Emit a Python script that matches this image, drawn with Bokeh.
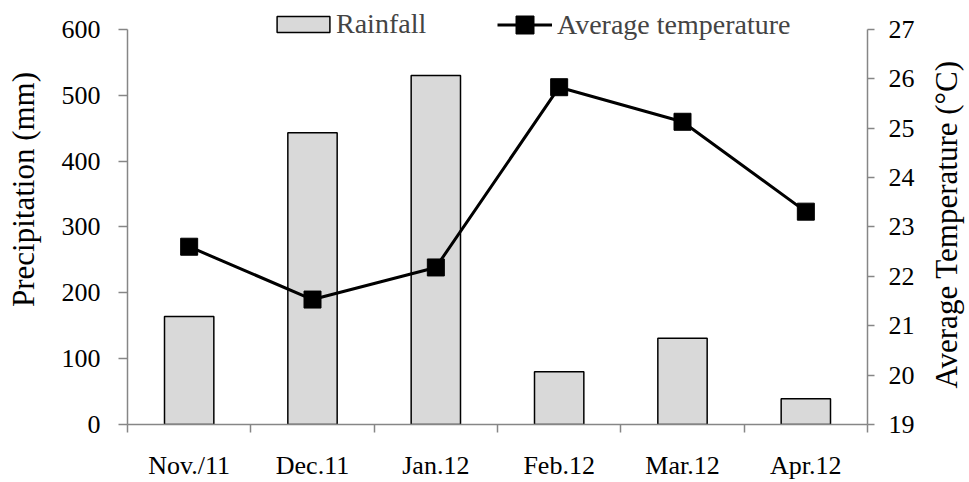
import math
from bokeh.plotting import figure
from bokeh.models import Range1d, LinearAxis, FixedTicker, Legend, LegendItem, Label
from bokeh.embed import file_html
from bokeh.resources import INLINE

months = ["Nov./11", "Dec.11", "Jan.12", "Feb.12", "Mar.12", "Apr.12"]
rainfall = [164, 443, 530, 80, 131, 39]
avg_temp = [22.6, 21.53, 22.18, 25.83, 25.13, 23.31]
precip_ticks = [0, 100, 200, 300, 400, 500, 600]
temp_ticks = [19, 20, 21, 22, 23, 24, 25, 26, 27]

FONT = "Liberation Serif"
AXIS_GRAY = "#868686"

# the frame reaches the top of the figure so the legend (drawn above the axes) is not clipped;
# the axes themselves are bounded to their data ranges
HEADROOM = 425 / 396
P_MIN, P_MAX = precip_ticks[0], precip_ticks[-1]
T_MIN, T_MAX = temp_ticks[0], temp_ticks[-1]

xs = [i + 0.5 for i in range(len(months))]
bounds = [float(i) for i in range(len(months) + 1)]

p = figure(width=969, height=482, output_backend="svg", toolbar_location=None,
           x_range=Range1d(0, len(months)),
           y_range=Range1d(P_MIN, P_MIN + (P_MAX - P_MIN) * HEADROOM),
           min_border_left=127, min_border_right=102, min_border_top=0,
           min_border_bottom=57, x_axis_location=None, y_axis_location=None)
p.outline_line_color = None
p.xgrid.visible = False
p.ygrid.visible = False
p.background_fill_color = "white"
p.border_fill_color = "white"

p.extra_y_ranges = {"temp": Range1d(T_MIN, T_MIN + (T_MAX - T_MIN) * HEADROOM)}

xaxis = LinearAxis(ticker=FixedTicker(ticks=xs, minor_ticks=bounds),
                   major_label_overrides={x: m for x, m in zip(xs, months)})
xaxis.major_tick_out = 0
xaxis.major_tick_in = 0
xaxis.minor_tick_out = 8
xaxis.minor_tick_in = 0
xaxis.major_label_standoff = 18
p.add_layout(xaxis, "below")

yaxis = LinearAxis(ticker=FixedTicker(ticks=precip_ticks), bounds=(P_MIN, P_MAX))
yaxis.major_tick_out = 9
yaxis.major_tick_in = 0
yaxis.minor_tick_out = 0
yaxis.minor_tick_in = 0
yaxis.major_label_standoff = 18
p.add_layout(yaxis, "left")

y2axis = LinearAxis(y_range_name="temp", ticker=FixedTicker(ticks=temp_ticks),
                    bounds=(T_MIN, T_MAX))
y2axis.major_tick_out = 7
y2axis.major_tick_in = 0
y2axis.minor_tick_out = 0
y2axis.minor_tick_in = 0
y2axis.major_label_standoff = 14
p.add_layout(y2axis, "right")

for ax in (xaxis, yaxis, y2axis):
    ax.axis_line_color = AXIS_GRAY
    ax.axis_line_width = 1.5
    ax.major_tick_line_color = AXIS_GRAY
    ax.major_tick_line_width = 1.5
    ax.minor_tick_line_color = AXIS_GRAY
    ax.minor_tick_line_width = 1.5
    ax.major_label_text_font = FONT
    ax.major_label_text_font_size = "26px"
    ax.major_label_text_color = "black"

# axis titles, rotated to read bottom-to-top, placed in the side panels
p.add_layout(Label(text="Precipitation (mm)", x=0, y=235, x_units="screen", y_units="screen",
                   angle=math.pi / 2, text_align="center", text_baseline="middle",
                   text_font=FONT, text_font_size="31px", text_color="black"), "left")
p.add_layout(Label(text="Average Temperature (\u00b0C)", x=29, y=200, x_units="screen",
                   y_units="screen", angle=math.pi / 2, text_align="center",
                   text_baseline="middle", text_font=FONT, text_font_size="31px",
                   text_color="black"), "right")

bars = p.vbar(x=xs, top=rainfall, width=0.4, bottom=0,
              fill_color="#d9d9d9", line_color="black", line_width=1.5)

line = p.line(x=xs, y=avg_temp, y_range_name="temp", line_color="black", line_width=3)
marks = p.scatter(x=xs, y=avg_temp, y_range_name="temp", marker="square", size=17,
                  fill_color="black", line_color="black")

leg1 = Legend(items=[LegendItem(label="Rainfall", renderers=[bars])],
              location=(143, 384), orientation="horizontal",
              glyph_width=66, glyph_height=20, label_standoff=0,
              padding=0, margin=0, border_line_color=None, background_fill_alpha=0,
              label_text_font=FONT, label_text_font_size="28px")
leg2 = Legend(items=[LegendItem(label="Average temperature", renderers=[line, marks])],
              location=(370, 377), orientation="horizontal",
              glyph_width=55, glyph_height=45, label_standoff=5,
              padding=0, margin=0, border_line_color=None, background_fill_alpha=0,
              label_text_font=FONT, label_text_font_size="28px")
p.add_layout(leg1, "center")
p.add_layout(leg2, "center")

open("out.html", "w").write(file_html(p, INLINE))
